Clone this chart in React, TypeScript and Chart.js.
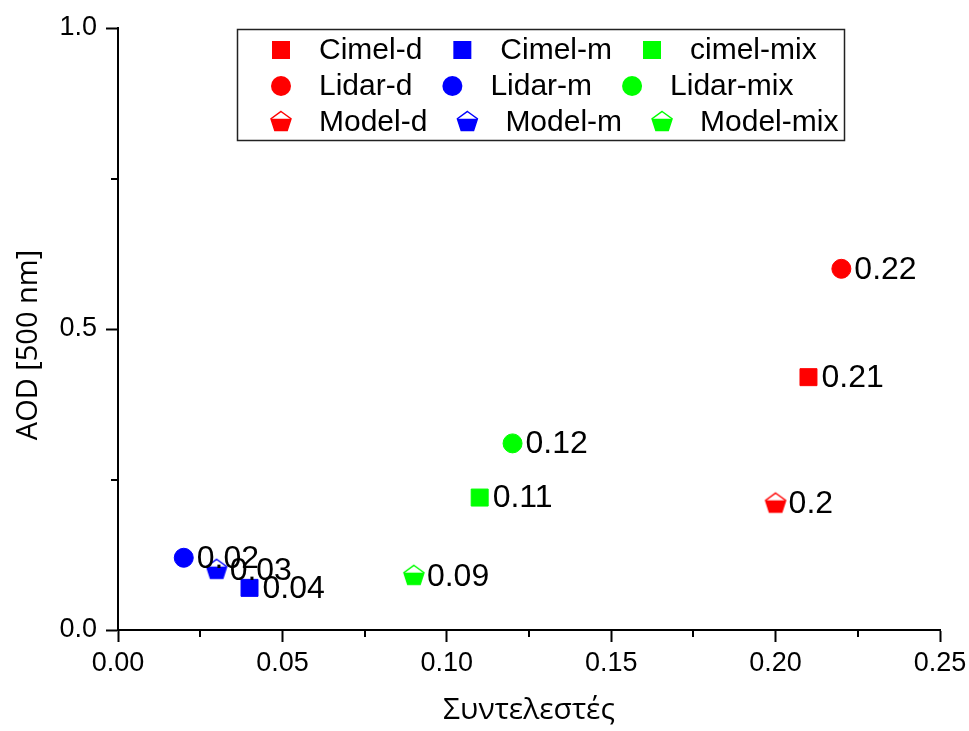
import React, { useEffect, useRef } from 'react';
import { Chart, registerables } from 'chart.js';

Chart.register(...registerables);

// Series, in legend order (row by row)
const seriesNames = ['Cimel-d', 'Cimel-m', 'cimel-mix', 'Lidar-d', 'Lidar-m', 'Lidar-mix', 'Model-d', 'Model-m', 'Model-mix'];
const coefficients = [0.21, 0.04, 0.11, 0.22, 0.02, 0.12, 0.2, 0.03, 0.09];
const aodValues = [0.42, 0.07, 0.22, 0.6, 0.12, 0.31, 0.21, 0.1, 0.09];
const seriesColors = ['#ff0000', '#0000ff', '#00ff00', '#ff0000', '#0000ff', '#00ff00', '#ff0000', '#0000ff', '#00ff00'];
const seriesShapes = ['square', 'square', 'square', 'circle', 'circle', 'circle', 'pentagon', 'pentagon', 'pentagon'];

// Axis ticks
const xMajorTicks = [0, 0.05, 0.1, 0.15, 0.2, 0.25];
const xMinorTicks = [0.025, 0.075, 0.125, 0.175, 0.225];
const yMajorTicks = [0, 0.5, 1.0];
const yMinorTicks = [0.25, 0.75];

const xTitle = 'Συντελεστές';
const yTitle = 'AOD [500 nm]';

const ARIAL = "'Liberation Sans', Arial, sans-serif";
const TITLE_FONT = "'Open Sans', 'Noto Sans', sans-serif";

function pentagonPoints(cx: number, cy: number, r: number) {
  const pts: [number, number][] = [];
  for (let i = 0; i < 5; i++) {
    const a = -Math.PI / 2 + (i * 2 * Math.PI) / 5;
    pts.push([cx + r * Math.cos(a), cy + r * Math.sin(a)]);
  }
  return pts;
}

// Regular pentagon: open cap on top, filled body below the side corners
function drawPentagon(ctx: CanvasRenderingContext2D, cx: number, cy: number, r: number, color: string) {
  const p = pentagonPoints(cx, cy, r);
  const outline = () => {
    ctx.beginPath();
    ctx.moveTo(p[0][0], p[0][1]);
    for (let i = 1; i < 5; i++) ctx.lineTo(p[i][0], p[i][1]);
    ctx.closePath();
  };
  ctx.save();
  outline();
  ctx.fillStyle = '#ffffff';
  ctx.fill();
  ctx.beginPath();
  ctx.moveTo(p[1][0], p[1][1]);
  ctx.lineTo(p[2][0], p[2][1]);
  ctx.lineTo(p[3][0], p[3][1]);
  ctx.lineTo(p[4][0], p[4][1]);
  ctx.closePath();
  ctx.fillStyle = color;
  ctx.fill();
  outline();
  ctx.strokeStyle = color;
  ctx.lineWidth = 1.5;
  ctx.stroke();
  ctx.restore();
}

function pentagonImage(color: string) {
  const c = document.createElement('canvas');
  c.width = 26;
  c.height = 26;
  const ctx = c.getContext('2d')!;
  drawPentagon(ctx, 13, 13, 10.5, color);
  return c;
}

function drawMarker(ctx: CanvasRenderingContext2D, shape: string, x: number, y: number, color: string) {
  ctx.save();
  ctx.fillStyle = color;
  if (shape === 'square') {
    ctx.fillRect(x - 9, y - 9, 18, 18);
  } else if (shape === 'circle') {
    ctx.beginPath();
    ctx.arc(x, y, 10, 0, Math.PI * 2);
    ctx.fill();
  } else {
    drawPentagon(ctx, x, y, 10.5, color);
  }
  ctx.restore();
}

// Value labels beside every point
const valueLabels = {
  id: 'valueLabels',
  afterDatasetsDraw(chart: any) {
    const ctx = chart.ctx as CanvasRenderingContext2D;
    ctx.save();
    ctx.font = `32px ${ARIAL}`;
    ctx.fillStyle = '#000';
    ctx.textAlign = 'left';
    ctx.textBaseline = 'middle';
    chart.data.datasets.forEach((ds: any, i: number) => {
      const meta = chart.getDatasetMeta(i);
      meta.data.forEach((el: any, j: number) => {
        const v = ds.data[j].x;
        ctx.fillText(String(v), el.x + 13, el.y + 1);
      });
    });
    ctx.restore();
  },
};

// Minor tick marks and the vertical axis title
const axisExtras = {
  id: 'axisExtras',
  afterDraw(chart: any) {
    const ctx = chart.ctx as CanvasRenderingContext2D;
    const { x, y } = chart.scales;
    const area = chart.chartArea;
    ctx.save();
    ctx.strokeStyle = '#000';
    ctx.lineWidth = 2;
    ctx.beginPath();
    xMinorTicks.forEach((v) => {
      const px = Math.round(x.getPixelForValue(v));
      ctx.moveTo(px, area.bottom);
      ctx.lineTo(px, area.bottom + 7);
    });
    yMinorTicks.forEach((v) => {
      const py = Math.round(y.getPixelForValue(v));
      ctx.moveTo(area.left, py);
      ctx.lineTo(area.left - 7, py);
    });
    ctx.stroke();

    ctx.fillStyle = '#000';
    ctx.font = `29px ${TITLE_FONT}`;
    ctx.textAlign = 'center';
    ctx.textBaseline = 'alphabetic';
    ctx.translate(37, (area.top + area.bottom) / 2 + 16);
    ctx.rotate(-Math.PI / 2);
    ctx.fillText(yTitle, 0, 0);
    ctx.restore();
  },
};

// Boxed three-column legend in the upper part of the plot
const boxedLegend = {
  id: 'boxedLegend',
  afterDraw(chart: any) {
    const ctx = chart.ctx as CanvasRenderingContext2D;
    const area = chart.chartArea;
    const boxLeft = area.left + 119.5;
    const boxTop = area.top + 1.5;
    const boxW = 607;
    const boxH = 111;
    ctx.save();
    ctx.fillStyle = '#fff';
    ctx.fillRect(boxLeft, boxTop, boxW, boxH);
    ctx.strokeStyle = '#222';
    ctx.lineWidth = 1.5;
    ctx.strokeRect(boxLeft, boxTop, boxW, boxH);
    ctx.font = `30px ${ARIAL}`;
    ctx.textBaseline = 'middle';
    ctx.textAlign = 'left';
    const perRow = 3;
    let cursor = 0;
    chart.data.datasets.forEach((ds: any, i: number) => {
      const row = Math.floor(i / perRow);
      if (i % perRow === 0) cursor = boxLeft + 43.5;
      const mx = cursor;
      const my = boxTop + 20.5 + row * 36;
      drawMarker(ctx, seriesShapes[i], mx, my, seriesColors[i]);
      ctx.fillStyle = '#000';
      const tx = mx + 38;
      ctx.fillText(ds.label, tx, my + 1);
      cursor = tx + ctx.measureText(ds.label).width + 40;
    });
    ctx.restore();
  },
};

export default function App() {
  const canvasRef = useRef<HTMLCanvasElement | null>(null);

  useEffect(() => {
    const canvas = canvasRef.current;
    if (!canvas) return;

    const datasets = seriesNames.map((name, i) => {
      const shape = seriesShapes[i];
      const color = seriesColors[i];
      const base: any = {
        label: name,
        data: [{ x: coefficients[i], y: aodValues[i] }],
        backgroundColor: color,
        borderColor: color,
        borderWidth: 1,
      };
      if (shape === 'square') {
        base.pointStyle = 'rect';
        base.pointRadius = 12;
      } else if (shape === 'circle') {
        base.pointStyle = 'circle';
        base.pointRadius = 9.5;
      } else {
        base.pointStyle = pentagonImage(color);
        base.pointRadius = 12;
      }
      return base;
    });

    const chart = new Chart(canvas, {
      type: 'scatter',
      data: { datasets },
      options: {
        animation: false,
        responsive: false,
        devicePixelRatio: 1,
        layout: { padding: { top: 28, right: 29, left: 0, bottom: 0 } },
        plugins: {
          legend: { display: false },
          tooltip: { enabled: false },
        },
        scales: {
          x: {
            type: 'linear',
            position: 'bottom',
            min: 0,
            max: 0.25,
            afterFit: (s: any) => {
              s.height = 101;
              s.paddingLeft = 0;
              s.paddingRight = 0;
            },
            afterBuildTicks: (s: any) => {
              s.ticks = xMajorTicks.map((v) => ({ value: v }));
            },
            grid: {
              display: true,
              drawOnChartArea: false,
              drawTicks: true,
              tickLength: 12,
              tickWidth: 2,
              tickColor: '#000',
            },
            border: { display: true, color: '#000', width: 2 },
            ticks: {
              color: '#000',
              font: { family: ARIAL, size: 27 },
              padding: 5,
              maxRotation: 0,
              autoSkip: false,
              callback: (v: any) => Number(v).toFixed(2),
            },
            title: {
              display: true,
              text: xTitle,
              color: '#000',
              font: { family: TITLE_FONT, size: 30 },
              padding: { top: 0, bottom: 3 },
            },
          },
          y: {
            type: 'linear',
            min: 0,
            max: 1,
            afterFit: (s: any) => {
              s.width = 118;
              s.paddingTop = 0;
              s.paddingBottom = 0;
            },
            afterBuildTicks: (s: any) => {
              s.ticks = yMajorTicks.map((v) => ({ value: v }));
            },
            grid: {
              display: true,
              drawOnChartArea: false,
              drawTicks: true,
              tickLength: 12,
              tickWidth: 2,
              tickColor: '#000',
            },
            border: { display: true, color: '#000', width: 2 },
            ticks: {
              color: '#000',
              font: { family: ARIAL, size: 27 },
              padding: 9,
              autoSkip: false,
              callback: (v: any) => Number(v).toFixed(1),
            },
            title: { display: false },
          },
        },
      } as any,
      plugins: [axisExtras, valueLabels, boxedLegend],
    });

    return () => chart.destroy();
  }, []);

  return (
    <div style={{ position: 'fixed', left: 0, top: 0, width: 969, height: 731, background: '#fff' }}>
      <canvas ref={canvasRef} width={969} height={731} style={{ display: 'block' }} />
    </div>
  );
}
